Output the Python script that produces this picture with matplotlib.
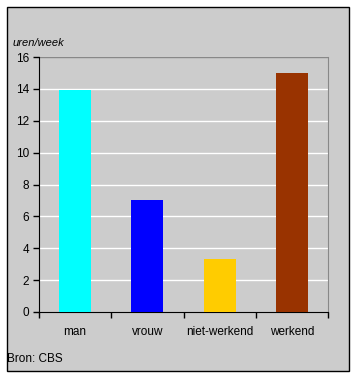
import matplotlib
matplotlib.use("Agg")
import matplotlib.pyplot as plt
from matplotlib.patches import Rectangle

plt.rcParams["font.family"] = ["Liberation Sans", "DejaVu Sans"]

categories = ["man", "vrouw", "niet-werkend", "werkend"]
values = [13.9, 7.0, 3.3, 15.0]
colors = ["#00ffff", "#0000ff", "#ffcc00", "#993300"]
yticks = [0, 2, 4, 6, 8, 10, 12, 14, 16]

W, H = 356, 377
fig = plt.figure(figsize=(W / 100, H / 100), dpi=100)
fig.patch.set_facecolor("white")
fig.patches.append(Rectangle((6.5 / W, 1 - 370.5 / H), 342.5 / W, 364 / H,
                             transform=fig.transFigure, facecolor="#cccccc",
                             edgecolor="black", linewidth=1.0, zorder=-5))

ax = fig.add_axes([39 / W, 1 - 312 / H, (328 - 39) / W, (312 - 57) / H])
ax.set_zorder(2)
ax.set_facecolor("#cccccc")
x = list(range(len(categories)))
ax.bar(x, values, width=0.44, color=colors, zorder=3)
ax.set_xlim(-0.5, len(categories) - 0.5)
ax.set_ylim(0, 16)
ax.set_yticks(yticks)
ax.set_yticklabels([str(t) for t in yticks], fontsize=8.5)
for t in yticks[1:-1]:
    ax.axhline(t, color="white", linewidth=1, zorder=1)
ax.axhline(16, color="#888888", linewidth=1, zorder=1)

ax.set_xticks([i - 0.5 for i in range(len(categories) + 1)])
ax.set_xticklabels([])
ax.set_xticks(x, minor=True)
ax.set_xticklabels(categories, minor=True, fontsize=8.5)
ax.tick_params(axis="x", which="minor", length=0, pad=10)
ax.tick_params(axis="x", which="major", length=4, direction="out", width=1)
ax.tick_params(axis="y", length=4, direction="out", width=1, pad=3)

ax.spines["top"].set_visible(False)
ax.spines["right"].set_color("#888888")
ax.spines["left"].set_color("black")
ax.spines["bottom"].set_color("black")

fig.text(13 / W, 1 - 43 / H, "uren/week", fontsize=8, style="italic",
         va="center", ha="left")
fig.text(7 / W, 1 - 359 / H, "Bron: CBS", fontsize=8.5, va="center", ha="left")

fig.savefig("out.png", dpi=100, facecolor="white")
